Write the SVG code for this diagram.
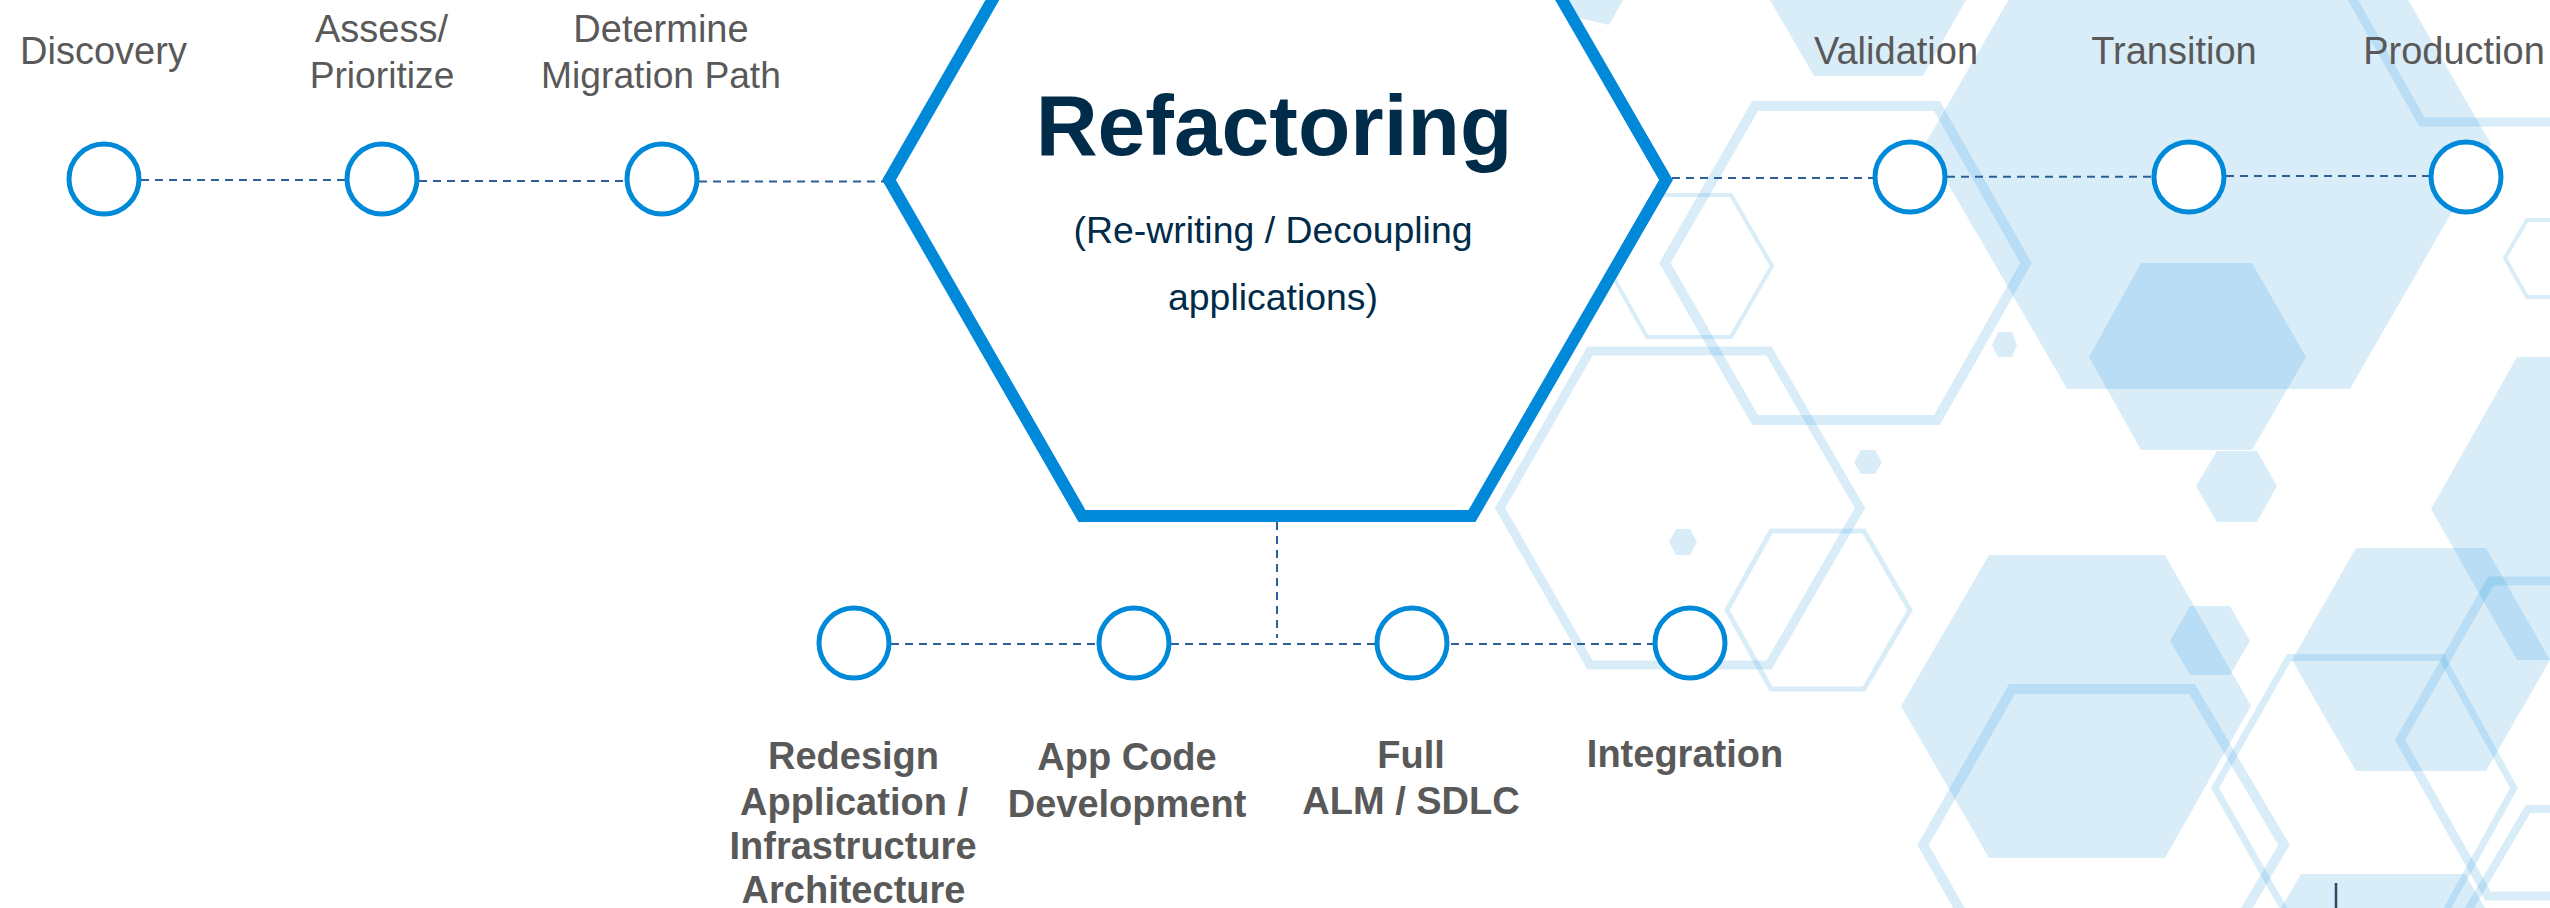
<svg xmlns="http://www.w3.org/2000/svg" width="2550" height="908" viewBox="0 0 2550 908">
<style>
text{font-family:"Liberation Sans",Arial,sans-serif;text-anchor:middle}
.t{font-size:38px;fill:#595959}
.n{font-size:37.2px}
.b{font-size:38px;fill:#595959;font-weight:700}
.s{font-size:37.4px;fill:#002b49}
.h{font-size:85.8px;fill:#002b49;font-weight:700}
.f{fill:#0089d9;fill-opacity:.15;stroke:none}
.o{fill:none;stroke:#0089d9;stroke-opacity:.15;stroke-linejoin:miter}
.c{fill:#fff;stroke:#0089d9;stroke-width:5}
.d{fill:none;stroke:#2e5f98;stroke-width:2;stroke-dasharray:8 6}
</style>
<rect width="2550" height="908" fill="#fff"/>
<g id="background">
<polygon class="f" points="1770,0 1814,76 1923,76 1966,0"/>
<polygon class="f" points="1500,0 1609,25 1623,0"/>
<polygon class="f" points="1925,144 2067,389 2350,389 2491,144 2350,-101 2067,-101"/>
<polygon class="f" points="2089,357 2141,263 2252,263 2306,357 2252,450 2141,450"/>
<polygon class="f" points="2431,509 2517,357 2620,357 2707,509 2620,660 2517,660"/>
<polygon class="f" points="2196,486 2217,451 2257,451 2277,486 2257,522 2217,522"/>
<polygon class="f" points="1901,706 1989,555 2165,555 2251,706 2165,858 1989,858"/>
<polygon class="f" points="2170,641 2190,606 2230,606 2250,641 2230,675 2190,675"/>
<polygon class="f" points="2292,660 2356,548 2486,548 2550,660 2486,771 2356,771"/>
<polygon class="f" points="2281,908 2301,874 2465,874 2485,908"/>
<polygon class="f" points="1992,345 1998,332 2012,332 2017,345 2012,357 1998,357"/>
<polygon class="f" points="1854,462 1861,450 1875,450 1882,462 1875,474 1861,474"/>
<polygon class="f" points="1669,542 1676,529 1690,529 1697,542 1690,555 1676,555"/>
<polygon class="o" stroke-width="10" points="1665,263 1755,106 1937,106 2026,263 1937,420 1755,420"/>
<polygon class="o" stroke-width="4" points="1607,266 1647,195 1731,195 1772,266 1731,337 1647,337"/>
<polygon class="o" stroke-width="9" points="1500,508 1590,351 1769,351 1860,508 1769,665 1590,665"/>
<polygon class="o" stroke-width="5" points="1727,610 1771,531 1864,531 1910,610 1864,689 1771,689"/>
<polygon class="o" stroke-width="10" points="1923,845 2012,689 2192,689 2284,845 2192,1001 2012,1001"/>
<polygon class="o" stroke-width="7" points="2215,788 2289,657.500 2442,657.500 2514,788 2442,918 2289,918"/>
<polygon class="o" stroke-width="9" points="2400,740 2491,581 2680,581 2770,740 2680,896 2488,896"/>
<polygon class="o" stroke-width="8" points="2528,809 2700,809 2700,1000 2415,1000"/>
<polygon class="o" stroke-width="9" points="2353,0 2422,122 2650,122 2650,-50 2324,-50"/>
<polygon class="o" stroke-width="4" points="2505,258 2527,220 2650,220 2650,297 2527,297"/>
</g>
<g id="connectors">
<path class="d" d="M141 180H345"/>
<path class="d" d="M419 181H625"/>
<path class="d" d="M699 181.500H885"/>
<path class="d" d="M1672 178H1874"/>
<path class="d" d="M1947 176.700H2152"/>
<path class="d" d="M2226 176H2429"/>
<path class="d" d="M891 644H1654"/>
<path class="d" d="M1277 522V638"/>
</g>
<g id="hex-refactoring">
<polygon points="889,180 1082,516 1472,516 1666,180 1472,-156 1082,-156" fill="#fff" stroke="#0089d9" stroke-width="12" stroke-linejoin="miter"/>
<text class="h" x="1274" y="155">Refactoring</text>
<text class="s" x="1273" y="243">(Re-writing / Decoupling</text>
<text class="s" x="1273" y="310">applications)</text>
</g>
<g id="node-discovery"><circle class="c" cx="104" cy="179" r="35"/><text class="t" x="103.500" y="64">Discovery</text></g>
<g id="node-assess"><circle class="c" cx="382" cy="179" r="35"/><text class="t" x="381.500" y="42">Assess/</text><text class="t n" x="382" y="88">Prioritize</text></g>
<g id="node-migration"><circle class="c" cx="662" cy="179" r="35"/><text class="t" x="661" y="42">Determine</text><text class="t n" x="661" y="88">Migration Path</text></g>
<g id="node-validation"><circle class="c" cx="1910" cy="177" r="35"/><text class="t" x="1896" y="64">Validation</text></g>
<g id="node-transition"><circle class="c" cx="2189" cy="177" r="35"/><text class="t" x="2174" y="64">Transition</text></g>
<g id="node-production"><circle class="c" cx="2466" cy="177" r="35"/><text class="t" x="2454" y="64">Production</text></g>
<g id="node-redesign"><circle class="c" cx="854" cy="643" r="35"/><text class="b" x="853.500" y="769">Redesign</text><text class="b" x="854" y="815">Application /</text><text class="b" x="853" y="859">Infrastructure</text><text class="b" x="853.500" y="903">Architecture</text></g>
<g id="node-appcode"><circle class="c" cx="1134" cy="643" r="35"/><text class="b" x="1127" y="770">App Code</text><text class="b" x="1127" y="817">Development</text></g>
<g id="node-alm"><circle class="c" cx="1412" cy="643" r="35"/><text class="b" x="1411" y="768">Full</text><text class="b" x="1411" y="814">ALM / SDLC</text></g>
<g id="node-integration"><circle class="c" cx="1690" cy="643" r="35"/><text class="b" x="1685" y="767">Integration</text></g>
<path id="logo-divider" d="M2336 883V908" stroke="#2b4a66" stroke-width="2.500" fill="none"/>
</svg>
